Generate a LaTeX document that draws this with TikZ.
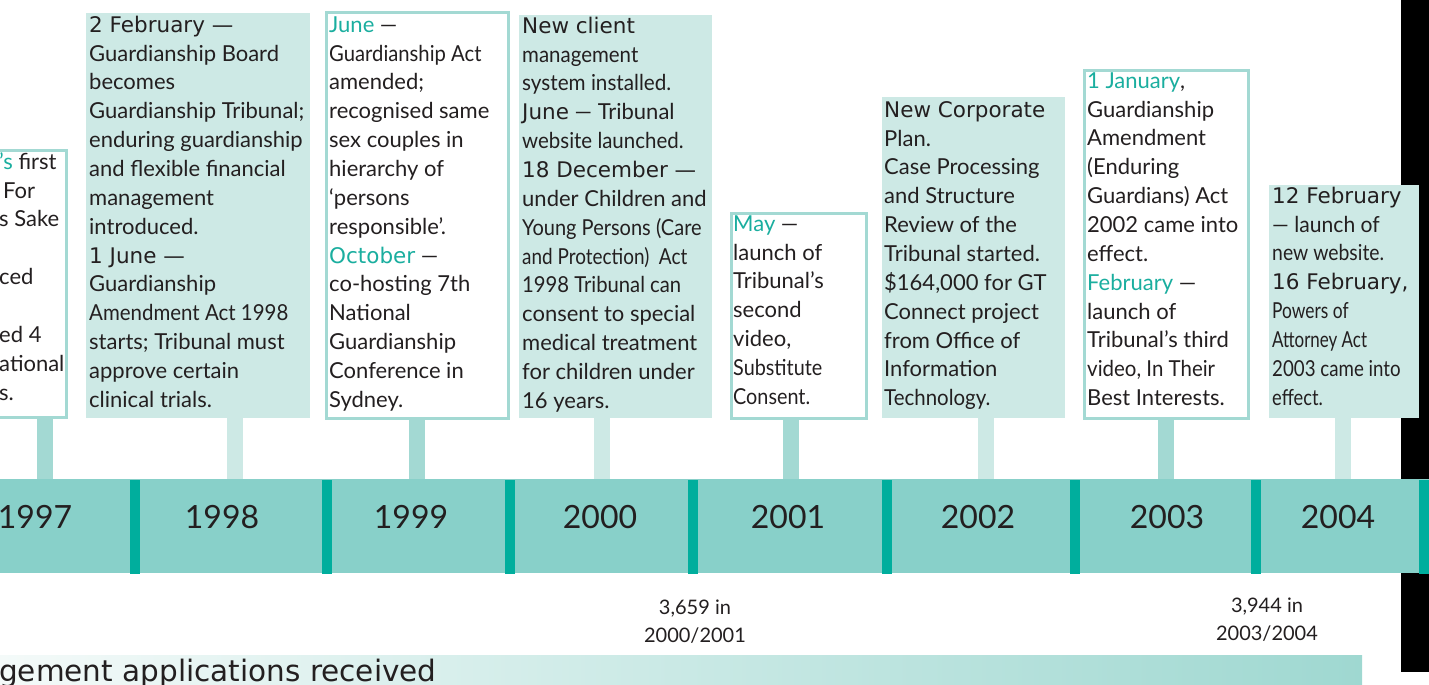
\documentclass[tikz,border=0pt]{standalone}
\usepackage{fontspec}
\setmainfont{Lato}
\newfontfamily\widefont{DejaVu Sans}
\usepackage{graphicx}
\definecolor{barc}{HTML}{88D0C9}
\definecolor{divc}{HTML}{00AE9D}
\definecolor{boxc}{HTML}{CDE9E5}
\definecolor{edgec}{HTML}{A3D9D3}
\definecolor{tealtxt}{HTML}{1AAE9F}
\definecolor{txt}{HTML}{231F20}
\definecolor{gradl}{HTML}{F4FAF9}
\definecolor{gradr}{HTML}{9FD8D1}
\newcommand\tcol[1]{\textcolor{tealtxt}{#1}}
\newcommand\wf[1]{{\widefont\fontsize{21.5}{28.85}\selectfont #1}}
\newcommand\cnd[2][0.88]{\scalebox{#1}[1]{#2}}
\newcommand\fl{\rule{0pt}{22pt}}
\tikzset{
  fillbox/.style={fill=boxc, draw=none, inner sep=0pt},
  linebox/.style={fill=white, draw=edgec, line width=3pt, inner sep=0pt},
  stublight/.style={draw=boxc, line width=16pt},
  stubmed/.style={draw=edgec, line width=16pt},
  body/.style={anchor=north west, inner sep=0pt, align=left, text=txt,
    font=\fontsize{22}{28.85}\selectfont},
  yearlbl/.style={anchor=base, inner sep=0pt, text=txt, font=\fontsize{32}{32}\selectfont},
  cntlbl/.style={anchor=north, inner sep=0pt, align=center, text=txt,
    font=\fontsize{20}{28.5}\selectfont},
}
\begin{document}
\begin{tikzpicture}[x=1pt,y=-1pt]
\useasboundingbox (0,0) rectangle (1429,685);
\clip (0,0) rectangle (1429,685);
% black edge
\fill[black] (1401,0) rectangle (1429,672);
% boxes
\node[linebox, anchor=north east, minimum width=100, minimum height=267] (b97) at (67.5,148.5) {};
\node[fillbox, anchor=north west, minimum width=224, minimum height=405] (b98) at (86,13) {};
\node[linebox, anchor=north west, minimum width=182, minimum height=405] (b99) at (324.5,11.5) {};
\node[fillbox, anchor=north west, minimum width=193, minimum height=403] (b00) at (519,15) {};
\node[linebox, anchor=north west, minimum width=135, minimum height=205] (b01) at (729.5,211.5) {};
\node[fillbox, anchor=north west, minimum width=183, minimum height=321] (b02) at (882,97) {};
\node[linebox, anchor=north west, minimum width=164, minimum height=347] (b03) at (1082.5,69.5) {};
\node[fillbox, anchor=north west, minimum width=150, minimum height=233] (b04) at (1269,185) {};
% timeline bar
\node[fill=barc, draw=none, inner sep=0pt, anchor=north west, minimum width=1429, minimum height=94] (bar) at (0,479) {};
% stubs
\foreach \n/\x/\s in {b97/45/stubmed, b98/235/stublight, b99/417/stubmed, b00/602/stublight,
  b01/791/stubmed, b02/986/stublight, b03/1166/stubmed, b04/1343/stublight}{
  \coordinate (s-\n) at (\x,0);
  \draw[\s] (s-\n |- \n.south) -- (s-\n |- bar.north);
}
% dividers
\foreach \c in {135,327,510,693,887,1075,1256,1424}{
  \fill[divc] (\c-5,480) rectangle (\c+5,574);
}
% years
\node[yearlbl] (y97) at (35,528) {1997};
\node[yearlbl] (y98) at (222,528) {1998};
\node[yearlbl] (y99) at (411,528) {1999};
\node[yearlbl] (y00) at (600,528) {2000};
\node[yearlbl] (y01) at (788,528) {2001};
\node[yearlbl] (y02) at (978,528) {2002};
\node[yearlbl] (y03) at (1167,528) {2003};
\node[yearlbl] (y04) at (1338,528) {2004};
% box texts
\node[body] (t97) at (-1,147) {\fl\tcol{’s} first\\
\hspace{4pt}For\\
s Sake\\
\mbox{}\\
ced\\
\mbox{}\\
ed 4\\
ational\\
s.};
\node[body] (t98) at (89,10) {\fl\wf{2 February —}\\
Guardianship Board\\
becomes\\
Guardianship Tribunal;\\
enduring guardianship\\
and flexible financial\\
management\\
introduced.\\
\wf{1 June —}\\
Guardianship\\
\cnd[0.93]{Amendment Act 1998}\\
starts; Tribunal must\\
approve certain\\
clinical trials.};
\node[body] (t99) at (329,10) {\fl\tcol{June} —\\
\cnd[0.92]{Guardianship Act}\\
amended;\\
recognised same\\
sex couples in\\
hierarchy of\\
‘persons\\
responsible’.\\
\tcol{\wf{October}} —\\
co-hosting 7th\\
National\\
Guardianship\\
Conference in\\
Sydney.};
\node[body] (t00) at (522,11) {\fl\wf{New client}\\
\cnd[0.93]{management}\\
\cnd[0.94]{system installed.}\\
\wf{June} — Tribunal\\
\cnd[0.93]{website launched.}\\
\wf{18 December —}\\
under Children and\\
\cnd[0.91]{Young Persons (Care}\\
\cnd[0.86]{and Protection)\ \ Act}\\
\cnd[0.92]{1998 Tribunal can}\\
consent to special\\
medical treatment\\
for children under\\
16 years.};
\node[body] (t01) at (733,209) {\fl\tcol{May} —\\
launch of\\
Tribunal’s\\
second\\
video,\\
\cnd[0.9]{Substitute}\\
\cnd[0.9]{Consent.}};
\node[body] (t02) at (884,95) {\fl\wf{New Corporate}\\
Plan.\\
Case Processing\\
and Structure\\
Review of the\\
Tribunal started.\\
\$164,000 for GT\\
Connect project\\
from Office of\\
Information\\
\cnd[0.93]{Technology.}};
\node[body] (t03) at (1087,66) {\fl\tcol{1 January},\\
Guardianship\\
Amendment\\
(Enduring\\
Guardians) Act\\
2002 came into\\
effect.\\
\tcol{February} —\\
launch of\\
Tribunal’s third\\
\cnd[0.93]{video, In Their}\\
Best Interests.};
\node[body] (t04) at (1272,181) {\fl\wf{12 February}\\
\cnd[0.96]{— launch of}\\
\cnd[0.88]{new website.}\\
\wf{16 February,}\\
\cnd[0.79]{Powers of}\\
\cnd[0.77]{Attorney Act}\\
\cnd[0.85]{2003 came into}\\
\cnd[0.83]{effect.}};
% counts
\node[cntlbl] (n01) at (695,594) {\rule{0pt}{20pt}3,659 in\\2000/2001};
\node[cntlbl] (n04) at (1267,592) {\rule{0pt}{20pt}3,944 in\\2003/2004};
% bottom gradient band
\shade[left color=gradl, right color=gradr] (0,655) rectangle (1362,685);
\node[anchor=base west, inner sep=0pt, text=txt, font=\widefont\fontsize{29.5}{29.5}\selectfont] (lbl) at (-1,681) {gement applications received};
\end{tikzpicture}
\end{document}
